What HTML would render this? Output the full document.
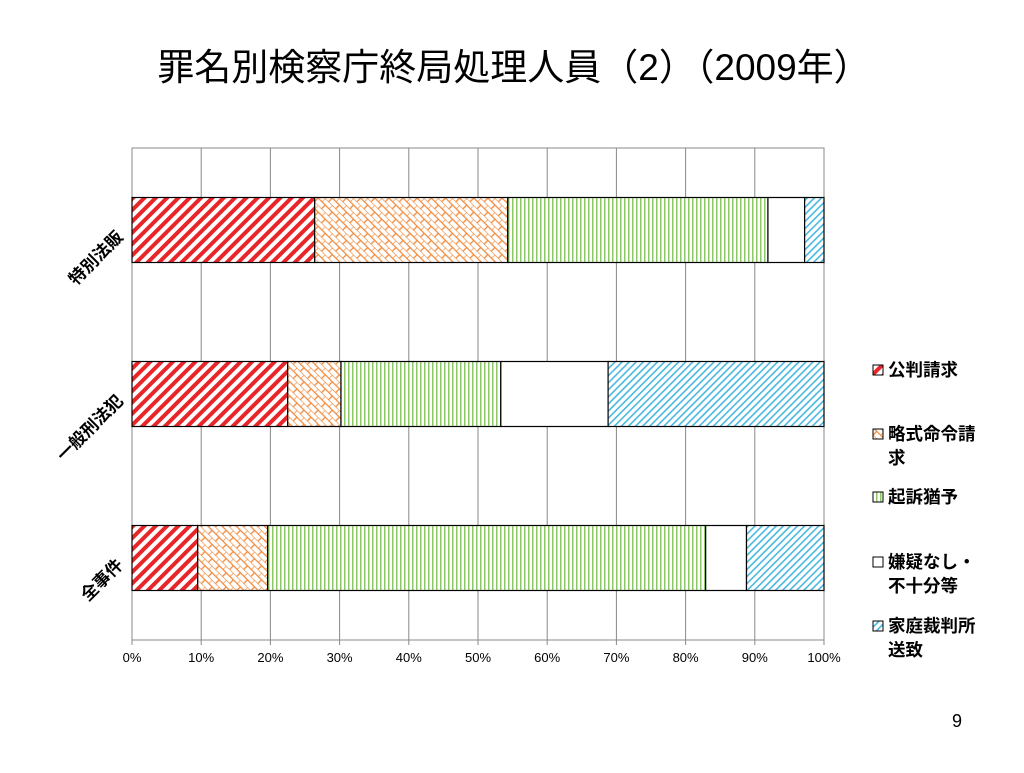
<!DOCTYPE html>
<html><head><meta charset="utf-8"><style>
body{margin:0;background:#fff;width:1024px;height:768px;overflow:hidden;font-family:"Liberation Sans","Noto Sans CJK JP",sans-serif}
</style></head><body>
<svg width="1024" height="768" xmlns="http://www.w3.org/2000/svg">
<defs>
<pattern id="p0" width="8" height="8" patternUnits="userSpaceOnUse" patternTransform="rotate(45)"><rect width="8" height="8" fill="#fff"/><rect width="4" height="8" fill="#e8262a"/></pattern>
<pattern id="p1" width="10" height="10" patternUnits="userSpaceOnUse" patternTransform="rotate(45)"><rect width="10" height="10" fill="#fff"/><path d="M0 0H10M0 5H10M0 0V5M5 5V10" stroke="#f08a3c" stroke-width="1.3" fill="none"/></pattern>
<pattern id="p2" width="4" height="4" patternUnits="userSpaceOnUse"><rect width="4" height="4" fill="#fff"/><rect width="1.5" height="4" fill="#8cc866"/></pattern>
<pattern id="p4" width="5" height="5" patternUnits="userSpaceOnUse" patternTransform="rotate(-45)"><rect width="5" height="5" fill="#fff"/><rect width="5" height="1.6" fill="#49b8e0"/></pattern>
</defs>
<text x="514" y="80" text-anchor="middle" font-size="37">罪名別検察庁終局処理人員（2）（2009年）</text>
<g id="grid"></g><g id="bars"></g><g id="labels"></g><g id="legend"></g>
<text x="957" y="727" font-size="18" text-anchor="middle">9</text>
</svg>
<script>
const categories=["特別法販","一般刑法犯","全事件"];
const series=["公判請求","略式命令請求","起訴猶予","嫌疑なし・不十分等","家庭裁判所送致"];
const s0=[26.4,22.5,9.5];
const s1=[27.9,7.7,10.1];
const s2=[37.6,23.1,63.3];
const s3=[5.3,15.5,5.9];
const s4=[2.8,31.2,11.2];
const ticks=[0,10,20,30,40,50,60,70,80,90,100];
const vals=[s0,s1,s2,s3,s4];
const fills=["url(#p0)","url(#p1)","url(#p2)","#fff","url(#p4)"];
const X0=132,X1=824,Y0=148,Y1=640;
const x=v=>X0+(X1-X0)*v/100;
const band=(Y1-Y0)/categories.length;
const yc=i=>Y0+band*(i+0.5);
const NS="http://www.w3.org/2000/svg";
function mk(t,a,p,txt){const e=document.createElementNS(NS,t);for(const k in a)e.setAttribute(k,a[k]);if(txt!==undefined)e.textContent=txt;p.appendChild(e);return e;}
const G=document.getElementById('grid'),B=document.getElementById('bars'),L=document.getElementById('labels'),LG=document.getElementById('legend');
const frame=mk('rect',{x:X0,y:Y0,width:X1-X0,height:Y1-Y0,fill:'none',stroke:'#888'},G);


ticks.forEach(t=>{
 const l=mk('line',{x1:x(t),x2:x(t),y1:Y0,y2:Y1+5,stroke:'#888'},G);
 
 
 const tx=mk('text',{x:x(t),y:Y1+22,'font-size':13,'text-anchor':'middle'},G,t+'%');
 
 
});
categories.forEach((c,i)=>{
 let cum=0;const h=65;
 vals.forEach((s,j)=>{
  const r=mk('rect',{x:x(cum),y:yc(i)-h/2,width:x(cum+s[i])-x(cum),height:h,fill:fills[j],stroke:'#000','stroke-width':1.2},B);
  
  
  cum+=s[i];
 });
 const t=mk('text',{x:124,y:yc(i)+8,'font-size':17,'font-weight':'bold','text-anchor':'end',transform:`rotate(-45 124 ${yc(i)+8})`},L,c);
 
 
});
const legLines=[["公判請求"],["略式命令請","求"],["起訴猶予"],["嫌疑なし・","不十分等"],["家庭裁判所","送致"]];
const legY=[376,440,503,568,632];
legLines.forEach((ls,j)=>{
 const r=mk('rect',{x:873,y:legY[j]-11,width:10,height:10,fill:fills[j],stroke:'#000'},LG);
 
 
 ls.forEach((s,k)=>{
  const t=mk('text',{x:888,y:legY[j]+k*24,'font-size':17.5,'font-weight':'bold'},LG,s);
  
  
 });
});
</script>
</body></html>
